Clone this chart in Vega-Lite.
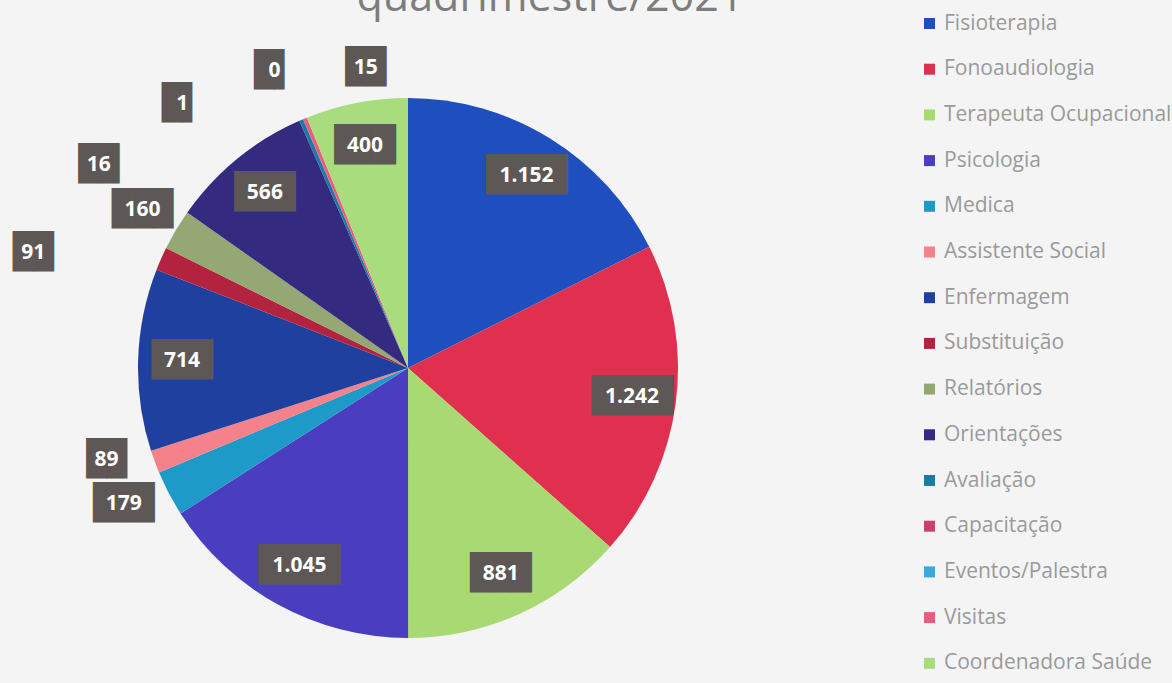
{
  "$schema": "https://vega.github.io/schema/vega-lite/v6.json",
  "width": 816,
  "height": 630,
  "autosize": "none",
  "padding": {"top": 53, "left": 0, "right": 356, "bottom": 0},
  "background": "#f4f4f4",
  "title": {
    "text": "quadrimestre/2021",
    "frame": "group",
    "anchor": "middle",
    "dx": 142,
    "offset": -41,
    "baseline": "alphabetic",
    "font": "Open Sans",
    "fontSize": 43,
    "fontWeight": "normal",
    "color": "#7d7d7d"
  },
  "data": {
    "values": [
      {"category": "Fisioterapia", "value": 1152},
      {"category": "Fonoaudiologia", "value": 1242},
      {"category": "Terapeuta Ocupacional", "value": 881},
      {"category": "Psicologia", "value": 1045},
      {"category": "Medica", "value": 179},
      {"category": "Assistente Social", "value": 89},
      {"category": "Enfermagem", "value": 714},
      {"category": "Substituição", "value": 91},
      {"category": "Relatórios", "value": 160},
      {"category": "Orientações", "value": 566},
      {"category": "Avaliação", "value": 16},
      {"category": "Capacitação", "value": 1},
      {"category": "Eventos/Palestra", "value": 0},
      {"category": "Visitas", "value": 15},
      {"category": "Coordenadora Saúde", "value": 400}
    ]
  },
  "transform": [{"window": [{"op": "row_number", "as": "i"}]}],
  "layer": [
    {
      "mark": {"type": "arc", "outerRadius": 270},
      "encoding": {
        "theta": {"field": "value", "type": "quantitative", "stack": true},
        "order": {"field": "i", "type": "quantitative"},
        "color": {
          "field": "category",
          "type": "nominal",
          "scale": {
            "domain": ["Fisioterapia", "Fonoaudiologia", "Terapeuta Ocupacional", "Psicologia", "Medica", "Assistente Social", "Enfermagem", "Substituição", "Relatórios", "Orientações", "Avaliação", "Capacitação", "Eventos/Palestra", "Visitas", "Coordenadora Saúde"],
            "range": ["#1f4fbf", "#e02f4f", "#a9d973", "#4a3dbf", "#1e9ac8", "#f5828a", "#1f409e", "#b3223e", "#95a873", "#342a80", "#1b7aa6", "#cf3f6e", "#3aa9de", "#ea5c7c", "#a8dc7c"]
          },
          "legend": {
            "orient": "none",
            "legendX": 919,
            "legendY": -40,
            "title": null,
            "symbolType": "square",
            "symbolSize": 121,
            "symbolStrokeWidth": 0,
            "labelFont": "Open Sans",
            "labelFontSize": 21,
            "labelColor": "#9a9a9a",
            "labelLimit": 320,
            "labelOffset": 4,
            "rowPadding": 23.7
          }
        }
      }
    },
    {
      "mark": {"type": "text", "radius": 226, "font": "DejaVu Sans Mono", "fontSize": 34, "fill": "#5d5856", "baseline": "middle"},
      "encoding": {
        "theta": {"field": "value", "type": "quantitative", "stack": true},
        "order": {"field": "i", "type": "quantitative"},
        "text": {
          "condition": [
            {"test": "datum.value < 300", "value": ""},
            {"test": "datum.value >= 1000", "value": "████"}
          ],
          "value": "███"
        }
      }
    },
    {
      "mark": {"type": "text", "radius": 226, "font": "Open Sans", "fontSize": 21, "fontWeight": "bold", "fill": "#ffffff", "baseline": "middle"},
      "encoding": {
        "theta": {"field": "value", "type": "quantitative", "stack": true},
        "order": {"field": "i", "type": "quantitative"},
        "text": {
          "condition": {"test": "datum.value < 300", "value": ""},
          "field": "value",
          "type": "quantitative",
          "format": ",.0f"
        }
      }
    },
    {
      "mark": {"type": "text", "radius": 309, "font": "DejaVu Sans Mono", "fontSize": 34, "fill": "#5d5856", "baseline": "middle"},
      "encoding": {
        "theta": {"field": "value", "type": "quantitative", "stack": true},
        "order": {"field": "i", "type": "quantitative"},
        "text": {
          "condition": {"test": "datum.category !== 'Relatórios'", "value": ""},
          "value": "███"
        }
      }
    },
    {
      "mark": {"type": "text", "radius": 309, "font": "Open Sans", "fontSize": 21, "fontWeight": "bold", "fill": "#ffffff", "baseline": "middle"},
      "encoding": {
        "theta": {"field": "value", "type": "quantitative", "stack": true},
        "order": {"field": "i", "type": "quantitative"},
        "text": {
          "condition": {"test": "datum.category !== 'Relatórios'", "value": ""},
          "field": "value",
          "type": "quantitative",
          "format": ",.0f"
        }
      }
    },
    {
      "transform": [{"filter": {"field": "category", "oneOf": ["Medica", "Assistente Social"]}}],
      "mark": {"type": "text", "radius": 315, "font": "DejaVu Sans Mono", "fontSize": 34, "fill": "#5d5856", "baseline": "middle"},
      "encoding": {
        "theta": {"field": "category", "type": "nominal", "scale": {"type": "point", "domain": ["Medica", "Assistente Social"], "range": [4.2673, 4.4174], "padding": 0}},
        "text": {
          "condition": [
            {"test": "datum.value >= 100", "value": "███"},
            {"test": "datum.value >= 10", "value": "██"}
          ],
          "value": "█▌"
        }
      }
    },
    {
      "transform": [{"filter": {"field": "category", "oneOf": ["Medica", "Assistente Social"]}}],
      "mark": {"type": "text", "radius": 315, "font": "Open Sans", "fontSize": 21, "fontWeight": "bold", "fill": "#ffffff", "baseline": "middle"},
      "encoding": {
        "theta": {"field": "category", "type": "nominal", "scale": {"type": "point", "domain": ["Medica", "Assistente Social"], "range": [4.2673, 4.4174], "padding": 0}},
        "text": {"field": "value", "type": "quantitative", "format": ",.0f"}
      }
    },
    {
      "transform": [{"filter": {"field": "category", "oneOf": ["Substituição", "Avaliação", "Capacitação", "Eventos/Palestra", "Visitas"]}}],
      "mark": {"type": "text", "font": "DejaVu Sans Mono", "fontSize": 34, "fill": "#5d5856", "baseline": "middle"},
      "encoding": {
        "theta": {"field": "category", "type": "nominal", "scale": {"type": "point", "domain": ["Substituição", "Avaliação", "Capacitação", "Eventos/Palestra", "Visitas"], "range": [5.0091, 6.1436], "padding": 0}},
        "radius": {"field": "category", "type": "nominal", "scale": {"type": "point", "domain": ["Substituição", "Avaliação", "Capacitação", "Eventos/Palestra", "Visitas"], "range": [392, 303], "padding": 0}},
        "text": {
          "condition": [
            {"test": "datum.value >= 100", "value": "███"},
            {"test": "datum.value >= 10", "value": "██"}
          ],
          "value": "█▌"
        }
      }
    },
    {
      "transform": [{"filter": {"field": "category", "oneOf": ["Substituição", "Avaliação", "Capacitação", "Eventos/Palestra", "Visitas"]}}],
      "mark": {"type": "text", "font": "Open Sans", "fontSize": 21, "fontWeight": "bold", "fill": "#ffffff", "baseline": "middle"},
      "encoding": {
        "theta": {"field": "category", "type": "nominal", "scale": {"type": "point", "domain": ["Substituição", "Avaliação", "Capacitação", "Eventos/Palestra", "Visitas"], "range": [5.0091, 6.1436], "padding": 0}},
        "radius": {"field": "category", "type": "nominal", "scale": {"type": "point", "domain": ["Substituição", "Avaliação", "Capacitação", "Eventos/Palestra", "Visitas"], "range": [392, 303], "padding": 0}},
        "text": {"field": "value", "type": "quantitative", "format": ",.0f"}
      }
    }
  ],
  "resolve": {"scale": {"theta": "independent", "radius": "independent"}},
  "config": {
    "view": {"stroke": null},
    "locale": {
      "number": {"decimal": ",", "thousands": ".", "grouping": [3], "currency": ["R$", ""]}
    }
  }
}
